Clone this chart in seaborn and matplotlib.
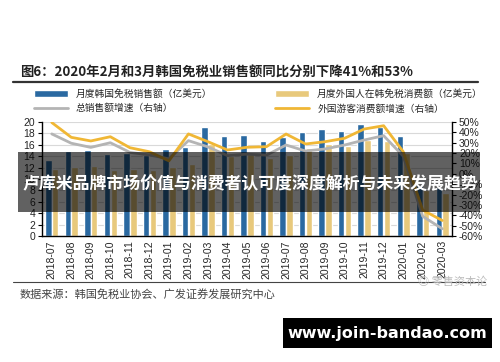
import numpy as np
import pandas as pd
import seaborn as sns
import matplotlib.pyplot as plt
from matplotlib.patches import Patch, Rectangle
from matplotlib.lines import Line2D
from matplotlib.ticker import FixedLocator

months = ["2018-07", "2018-08", "2018-09", "2018-10", "2018-11", "2018-12",
          "2019-01", "2019-02", "2019-03", "2019-04", "2019-05", "2019-06",
          "2019-07", "2019-08", "2019-09", "2019-10", "2019-11", "2019-12",
          "2020-01", "2020-02", "2020-03"]
# 亿美元
korea_sales = [13.4, 14.9, 15.1, 14.3, 14.6, 14.2, 15.3, 15.6, 19.2, 17.6, 17.7,
               16.7, 17.4, 18.2, 18.8, 18.5, 19.6, 19.2, 17.5, 9.0, 8.6]
foreign_sales = [11.7, 12.1, 12.3, 11.6, 11.8, 11.5, 12.1, 12.6, 16.1, 14.1, 14.3,
                 13.7, 14.2, 15.5, 16.1, 15.8, 16.9, 16.6, 14.6, 8.1, 7.6]
# %
total_growth = [38.5, 29.5, 25.5, 30.0, 20.7, 18.2, 14.5, 32.0, 26.0, 17.5, 19.0,
                18.0, 27.8, 22.0, 24.0, 27.8, 32.6, 36.8, 17.0, -41.0, -53.0]
foreign_growth = [49.5, 35.2, 31.7, 35.8, 25.2, 21.3, 12.5, 38.5, 31.0, 23.0, 25.6,
                  26.2, 38.4, 28.8, 31.0, 34.3, 43.2, 46.4, 21.4, -35.0, -45.0]

bar_labels = ["月度韩国免税销售额（亿美元）", "月度外国人在韩免税消费额（亿美元）"]
line_labels = ["总销售额增速（右轴）", "外国游客消费额增速（右轴）"]
title = "图6：2020年2月和3月韩国免税业销售额同比分别下降41%和53%"
source = "数据来源：韩国免税业协会、广发证券发展研究中心"
banner = "卢库米品牌市场价值与消费者认可度深度解析与未来发展趋势"

blue = "#2a69a1"
gold_bar = "#e8c97c"
gold_line = "#f0b735"
grey_line = "#b4b4b4"

sns.set_style("white")
plt.rcParams['font.family'] = ['Noto Sans CJK SC', 'DejaVu Sans']
narrow = ['Liberation Sans Narrow', 'Liberation Sans', 'DejaVu Sans']

bars = pd.DataFrame({
    "month": months * 2,
    "value": korea_sales + foreign_sales,
    "series": [bar_labels[0]] * len(months) + [bar_labels[1]] * len(months),
})
lines = pd.DataFrame({
    "pos": list(range(len(months))) * 2,
    "growth": total_growth + foreign_growth,
    "series": [line_labels[0]] * len(months) + [line_labels[1]] * len(months),
})

fig = plt.figure(figsize=(5.0, 3.62), dpi=100)
ax = fig.add_axes([0.084, 0.348, 0.82, 0.315])

sns.barplot(data=bars, x="month", y="value", hue="series",
            palette=[blue, gold_bar], saturation=1, width=0.7, gap=0.05,
            legend=False, ax=ax)
ax.set_ylim(0, 20)
ax.set_yticks(range(0, 21, 2))
ax.set_xlim(-0.5, len(months) - 0.5)
ax.set_xlabel("")
ax.set_ylabel("")
ax.grid(axis="y", color="#d9d9d9", lw=0.8)
ax.set_axisbelow(True)
ax.tick_params(axis="y", length=3, width=0.8, color="black", pad=2, labelsize=7.5)
ax.tick_params(axis="x", which="major", length=0, pad=3, labelsize=7.5, labelrotation=90)
ax.xaxis.set_minor_locator(FixedLocator(np.arange(-0.5, len(months), 1.0)))
ax.tick_params(axis="x", which="minor", length=3, width=0.8, color="black")
for lab in ax.get_xticklabels() + ax.get_yticklabels():
    lab.set_family(narrow)
for side in ["top", "right"]:
    ax.spines[side].set_visible(False)
for side in ["left", "bottom"]:
    ax.spines[side].set_color("black")
    ax.spines[side].set_linewidth(1.0)

ax2 = ax.twinx()
sns.lineplot(data=lines, x="pos", y="growth", hue="series",
             palette=[grey_line, gold_line], lw=2, legend=False, ax=ax2)
ax2.set_ylim(-60, 50)
ax2.set_yticks(range(-60, 51, 10))
ax2.set_yticklabels([f"{v}%" for v in range(-60, 51, 10)])
ax2.set_ylabel("")
ax2.tick_params(axis="y", length=3, width=0.8, color="black", pad=2, labelsize=7.5)
for lab in ax2.get_yticklabels():
    lab.set_family(narrow)
for side in ["top", "left", "bottom"]:
    ax2.spines[side].set_visible(False)
ax2.spines["right"].set_color("black")
ax2.spines["right"].set_linewidth(1.0)

# title and rules
fig.text(0.04, 0.800, title, fontsize=9.6, fontweight="bold", va="center", color="#222222")
fig.add_artist(Line2D([0.026, 0.956], [0.7735, 0.7735], transform=fig.transFigure,
                      color="#333333", lw=1.6))
fig.add_artist(Line2D([0.026, 0.97], [0.221, 0.221], transform=fig.transFigure,
                      color="#444444", lw=0.8))
fig.text(0.04, 0.188, source, fontsize=8, va="center", color="#444444")
fig.text(0.975, 0.221, "◎ 零售资本论", fontsize=8, va="center", ha="right", color="#bbbbbb")

handles = [Patch(facecolor=blue), Line2D([], [], color=grey_line, lw=2),
           Patch(facecolor=gold_bar), Line2D([], [], color=gold_line, lw=2)]
labels = [bar_labels[0], line_labels[0], bar_labels[1], line_labels[1]]
fig.legend(handles, labels, ncol=2, loc="upper left", bbox_to_anchor=(0.06, 0.765),
           frameon=False, fontsize=7, handlelength=3.5, handleheight=0.6,
           columnspacing=6.5, labelspacing=0.45, borderaxespad=0)

# overlay banner
fig.add_artist(Rectangle((0.036, 0.414), 0.924, 0.166, transform=fig.transFigure,
                         facecolor="black", alpha=0.62, lw=0, zorder=10))
fig.text(0.5, 0.492, banner, fontsize=12.2, fontweight="bold", color="white",
         ha="center", va="center", zorder=11)

# site box
fig.add_artist(Rectangle((0.566, 0.0387), 0.418, 0.0829, transform=fig.transFigure,
                         facecolor="black", lw=0, zorder=10))
fig.text(0.775, 0.080, "www.join-bandao.com", fontsize=11.5, fontweight="bold",
         family="DejaVu Sans", color="white", ha="center", va="center", zorder=11)

fig.savefig("out.png", dpi=100)
